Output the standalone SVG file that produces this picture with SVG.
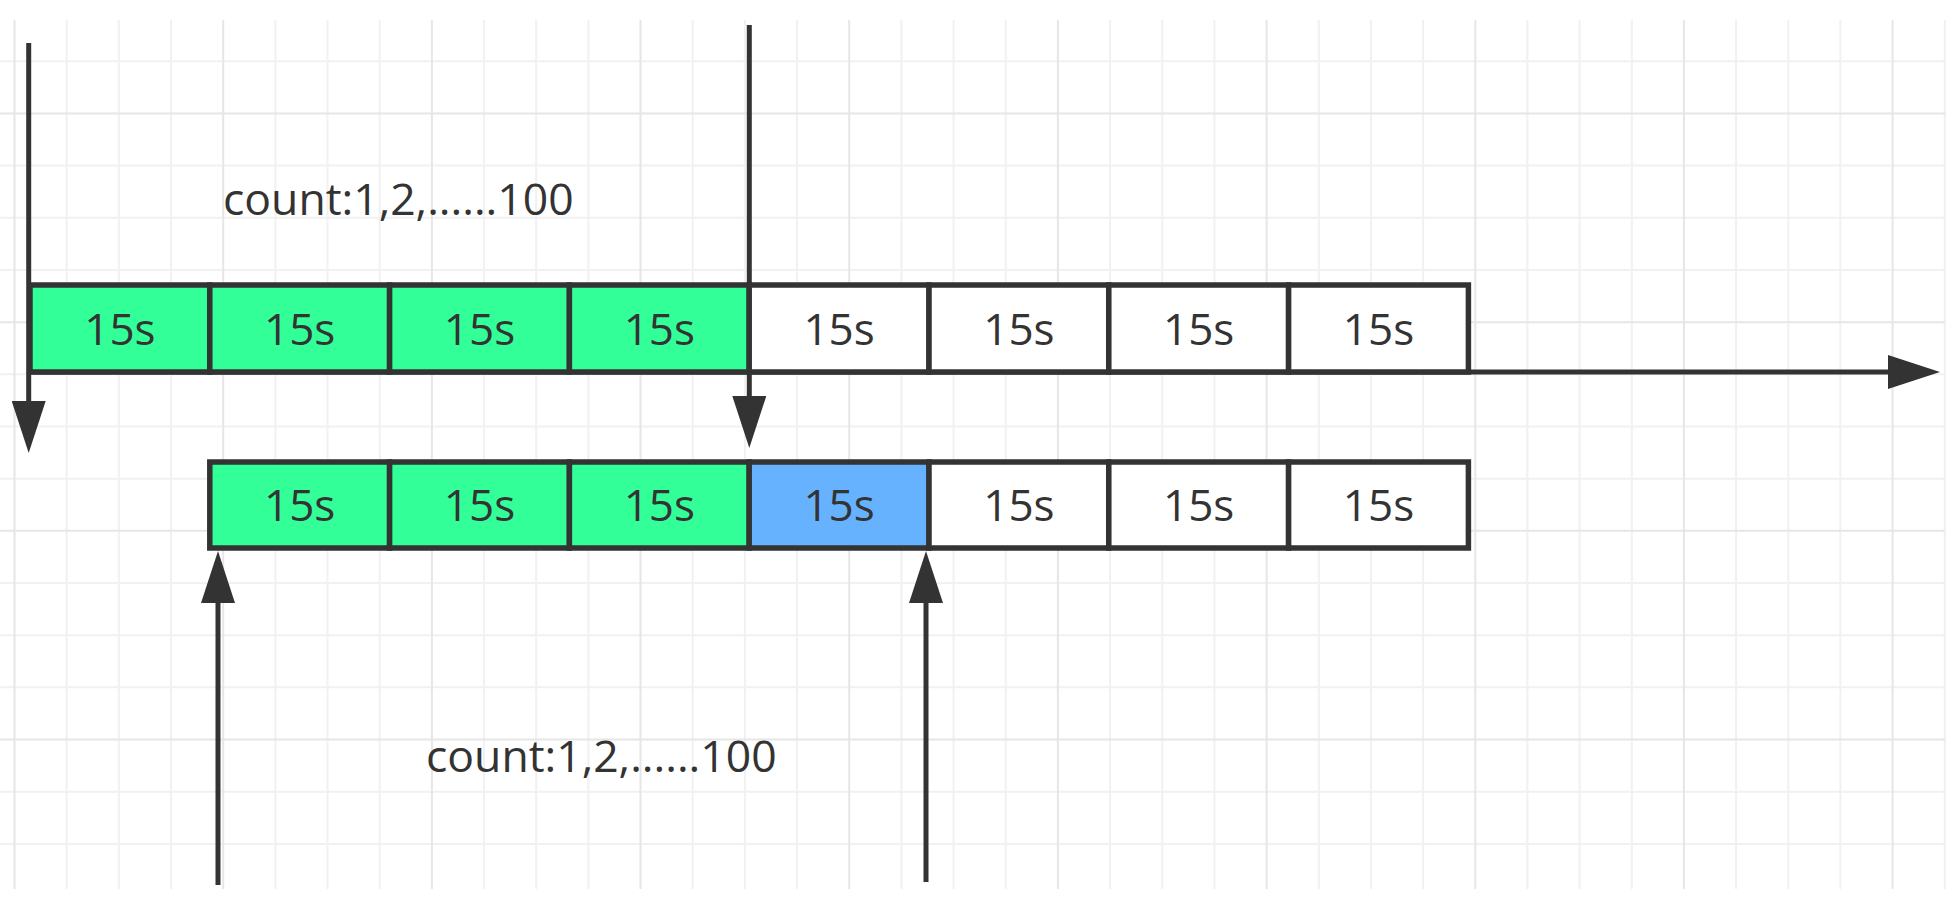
<svg xmlns="http://www.w3.org/2000/svg" width="1952" height="902" viewBox="0 0 1952 902">
  <style>
    .grid-minor { stroke: #f1f1f1; stroke-width: 2; fill: none; }
    .grid-major { stroke: #e6e6e6; stroke-width: 2; fill: none; }
    .cell { stroke: #333333; stroke-width: 5.5; }
    .done { fill: #33FF99; }
    .current { fill: #66B2FF; }
    .empty { fill: #FFFFFF; }
    .label { font-family: "Open Sans", "Noto Sans", "Liberation Sans", sans-serif; font-size: 44px; fill: #333333; text-anchor: middle; }
    .note { font-family: "Open Sans", "Noto Sans", "Liberation Sans", sans-serif; font-size: 44.5px; fill: #333333; }
    .arrow { stroke: #333333; stroke-width: 5; fill: none; marker-end: url(#head); }
  </style>
  <defs>
    <marker id="head" markerUnits="userSpaceOnUse" viewBox="0 0 52 34" markerWidth="52" markerHeight="34" refX="0" refY="17" orient="auto">
      <path d="M0,0 L52,17 L0,34 Z" fill="#333333"/>
    </marker>
  </defs>

  <!-- background and grid -->
  <rect x="0" y="0" width="1952" height="902" fill="#ffffff"/>
  <g id="grid">
    <path class="grid-minor" d="M66.7,20V889 M118.8,20V889 M171,20V889 M275.4,20V889 M327.5,20V889 M379.7,20V889 M484,20V889 M536.2,20V889 M588.4,20V889 M692.7,20V889 M744.9,20V889 M797.1,20V889 M901.4,20V889 M953.6,20V889 M1005.7,20V889 M1110.1,20V889 M1162.2,20V889 M1214.4,20V889 M1318.8,20V889 M1370.9,20V889 M1423.1,20V889 M1527.4,20V889 M1579.6,20V889 M1631.8,20V889 M1736.1,20V889 M1788.3,20V889 M1840.4,20V889 M1944.8,20V889 M0,61.3H1945 M0,165.6H1945 M0,217.8H1945 M0,270H1945 M0,374.3H1945 M0,426.5H1945 M0,478.7H1945 M0,583H1945 M0,635.2H1945 M0,687.3H1945 M0,791.7H1945 M0,843.9H1945"/>
    <path class="grid-major" d="M14.5,20V889 M223.2,20V889 M431.9,20V889 M640.5,20V889 M849.2,20V889 M1057.9,20V889 M1266.6,20V889 M1475.3,20V889 M1683.9,20V889 M1892.6,20V889 M0,113.5H1945 M0,322.2H1945 M0,530.8H1945 M0,739.5H1945"/>
  </g>

  <!-- timeline axis and window markers -->
  <g id="connectors">
    <line class="arrow" x1="30" y1="372" x2="1888" y2="372"/>
    <line class="arrow" x1="28.7" y1="43" x2="28.7" y2="401"/>
    <line class="arrow" x1="749.3" y1="25" x2="749.3" y2="396"/>
    <line class="arrow" x1="218" y1="885" x2="218" y2="603"/>
    <line class="arrow" x1="926" y1="882" x2="926" y2="603"/>
  </g>

  <!-- first window: eight 15s buckets -->
  <g id="row-a">
    <g id="a1"><rect class="cell done" x="30" y="285" width="179.8" height="87"/><text class="label" x="119.9" y="344.5">15s</text></g>
    <g id="a2"><rect class="cell done" x="209.8" y="285" width="179.8" height="87"/><text class="label" x="299.7" y="344.5">15s</text></g>
    <g id="a3"><rect class="cell done" x="389.6" y="285" width="179.8" height="87"/><text class="label" x="479.5" y="344.5">15s</text></g>
    <g id="a4"><rect class="cell done" x="569.4" y="285" width="179.8" height="87"/><text class="label" x="659.3" y="344.5">15s</text></g>
    <g id="a5"><rect class="cell empty" x="749.2" y="285" width="179.8" height="87"/><text class="label" x="839.1" y="344.5">15s</text></g>
    <g id="a6"><rect class="cell empty" x="929" y="285" width="179.8" height="87"/><text class="label" x="1018.9" y="344.5">15s</text></g>
    <g id="a7"><rect class="cell empty" x="1108.8" y="285" width="179.8" height="87"/><text class="label" x="1198.7" y="344.5">15s</text></g>
    <g id="a8"><rect class="cell empty" x="1288.6" y="285" width="179.8" height="87"/><text class="label" x="1378.5" y="344.5">15s</text></g>
  </g>

  <!-- second window: shifted by one bucket -->
  <g id="row-b">
    <g id="b1"><rect class="cell done" x="209.8" y="462" width="179.8" height="86"/><text class="label" x="299.7" y="520.5">15s</text></g>
    <g id="b2"><rect class="cell done" x="389.6" y="462" width="179.8" height="86"/><text class="label" x="479.5" y="520.5">15s</text></g>
    <g id="b3"><rect class="cell done" x="569.4" y="462" width="179.8" height="86"/><text class="label" x="659.3" y="520.5">15s</text></g>
    <g id="b4"><rect class="cell current" x="749.2" y="462" width="179.8" height="86"/><text class="label" x="839.1" y="520.5">15s</text></g>
    <g id="b5"><rect class="cell empty" x="929" y="462" width="179.8" height="86"/><text class="label" x="1018.9" y="520.5">15s</text></g>
    <g id="b6"><rect class="cell empty" x="1108.8" y="462" width="179.8" height="86"/><text class="label" x="1198.7" y="520.5">15s</text></g>
    <g id="b7"><rect class="cell empty" x="1288.6" y="462" width="179.8" height="86"/><text class="label" x="1378.5" y="520.5">15s</text></g>
  </g>

  <!-- window counters -->
  <g id="count-a"><text class="note" x="223" y="215">count:1,2,......100</text></g>
  <g id="count-b"><text class="note" x="426" y="772">count:1,2,......100</text></g>
</svg>
